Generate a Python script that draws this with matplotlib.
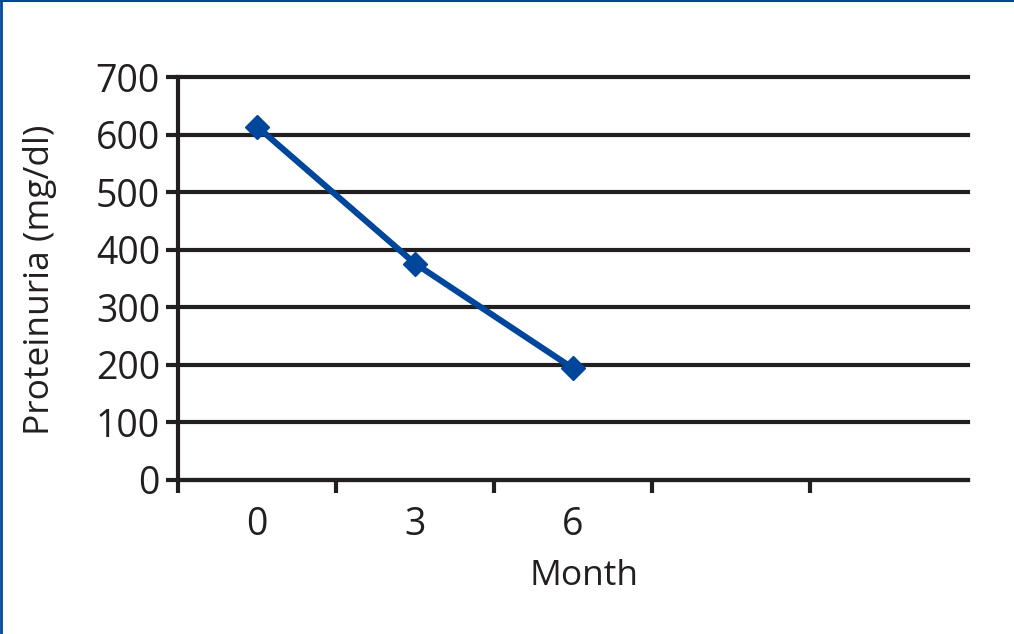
import matplotlib
matplotlib.use("Agg")
import matplotlib.pyplot as plt
from matplotlib.lines import Line2D

plt.rcParams['font.family'] = ['Open Sans', 'DejaVu Sans']

categories = ["0", "3", "6", "", ""]
months = ["0", "3", "6"]
proteinuria = [614, 376, 194]
y_ticks = [0, 100, 200, 300, 400, 500, 600, 700]

W, H = 1014, 634
fig = plt.figure(figsize=(W / 100, H / 100), dpi=100)
left, right, bottom, top = 178, 968, 480, 77
ax = fig.add_axes([left / W, 1 - bottom / H, (right - left) / W, (bottom - top) / H])

dark = "#231f20"
blue = "#00469a"
fs = 27
lfs = 25.5

x = list(range(len(months)))
ax.plot(x, proteinuria, color=blue, lw=4.4, marker="D", ms=12.5, mec=blue, mfc=blue, zorder=5, clip_on=False)

ax.set_xlim(-0.5, len(categories) - 0.5)
ax.set_ylim(0, 700)

ax.set_yticks(y_ticks)
ax.set_yticklabels([str(v) for v in y_ticks], fontsize=fs, color=dark)
ax.yaxis.grid(True, color=dark, lw=3.0)
for gl in ax.get_ygridlines():
    gl.set_clip_on(False)
ax.set_axisbelow(True)

ax.set_xticks(range(len(categories)))
ax.set_xticklabels(categories, fontsize=fs, color=dark)
ax.tick_params(axis="x", which="major", length=0, pad=19)
ax.set_xticks([i + 0.5 for i in range(-1, len(categories) - 1)], minor=True)
ax.tick_params(axis="x", which="minor", length=9.5, width=3.0, color=dark, direction="out")
ax.tick_params(axis="y", which="major", length=9, width=3.0, color=dark, pad=4)

for s in ["top", "right"]:
    ax.spines[s].set_visible(False)
for s in ["left", "bottom"]:
    ax.spines[s].set_color(dark)
    ax.spines[s].set_linewidth(3.0)

ax.set_xlabel("Month", fontsize=lfs, color=dark)
ax.xaxis.set_label_coords((584 - left) / (right - left), -(585 - bottom) / (bottom - top), transform=ax.transAxes)
ax.xaxis.label.set_va("baseline")
ax.set_ylabel("Proteinuria (mg/dl)", fontsize=lfs, color=dark)
ax.yaxis.set_label_coords(-(left - 23) / (right - left), (bottom - 280) / (bottom - top))
ax.yaxis.label.set_va("top")

# blue frame on top and left edges
fig.add_artist(Line2D([0, 1], [1 - 0.8 / H, 1 - 0.8 / H], transform=fig.transFigure, color=blue, lw=1.5))
fig.add_artist(Line2D([1.2 / W, 1.2 / W], [0, 1], transform=fig.transFigure, color=blue, lw=2.0))

fig.savefig("out.png", dpi=100)
